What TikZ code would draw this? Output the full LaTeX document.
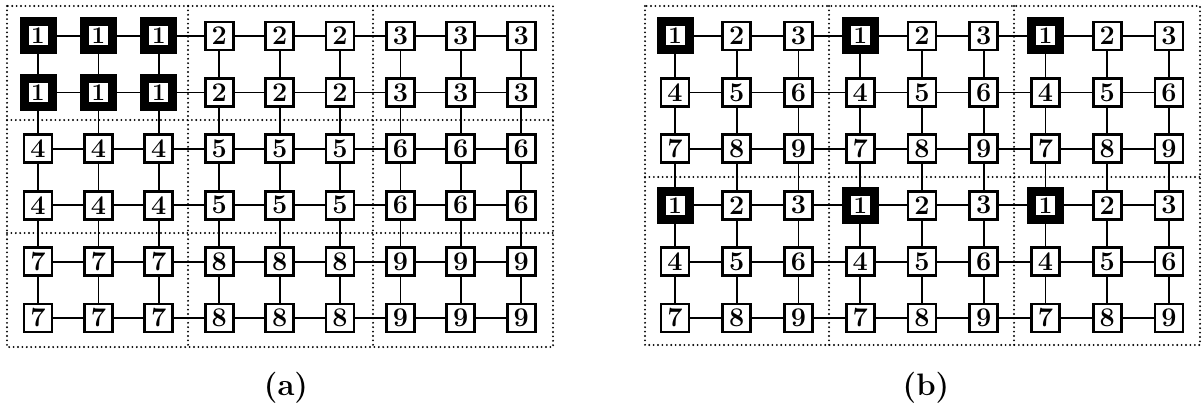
\documentclass[tikz,border=0pt]{standalone}
\usepackage{fontspec}
\setmainfont{Latin Modern Roman}
\begin{document}
\begin{tikzpicture}[x=1pt,y=-1pt,
  cell/.style={draw, line width=2.8pt, fill=white, minimum size=28pt, inner sep=0pt,
    font=\fontsize{27}{27}\selectfont\bfseries},
  hot/.style={cell, line width=9pt, minimum size=28pt, font=\fontsize{24}{24}\selectfont\bfseries},
  link/.style={line width=1.8pt},
  frame/.style={line width=2.1pt, dash pattern=on 0pt off 4.4pt, line cap=round},
  lab/.style={font=\fontsize{31}{31}\selectfont\bfseries}]
\useasboundingbox (0,0) rectangle (1204,404);
% frames (a)
\draw[frame] (7,6) rectangle (553,347);
\draw[frame] (188,6) -- (188,347);
\draw[frame] (373,6) -- (373,347);
\draw[frame] (7,120) -- (553,120);
\draw[frame] (7,233) -- (553,233);
% frames (b)
\draw[frame] (645,6) rectangle (1200,345);
\draw[frame] (829,6) -- (829,345);
\draw[frame] (1014,6) -- (1014,345);
\draw[frame] (645,177) -- (1200,177);
% nodes (a)
\foreach \r in {0,...,5}{
  \foreach \c in {0,...,8}{
    \pgfmathtruncatemacro{\v}{3*floor(\r/2)+floor(\c/3)+1}
    \pgfmathsetmacro{\xx}{38+60.4*\c}
    \pgfmathsetmacro{\yy}{36+56.4*\r}
    \ifnum\v=1
      \node[hot] (a-\r-\c) at (\xx,\yy) {\v};
    \else
      \node[cell] (a-\r-\c) at (\xx,\yy) {\v};
    \fi
  }
}
% nodes (b)
\foreach \r in {0,...,5}{
  \foreach \c in {0,...,8}{
    \pgfmathtruncatemacro{\v}{3*mod(\r,3)+mod(\c,3)+1}
    \pgfmathsetmacro{\xx}{675+61.75*\c}
    \pgfmathsetmacro{\yy}{36+56.4*\r}
    \ifnum\v=1
      \node[hot] (b-\r-\c) at (\xx,\yy) {\v};
    \else
      \node[cell] (b-\r-\c) at (\xx,\yy) {\v};
    \fi
  }
}
% links
\foreach \p in {a,b}{
  \foreach \r in {0,...,5}{
    \foreach \c in {0,...,7}{
      \pgfmathtruncatemacro{\n}{\c+1}
      \draw[link] (\p-\r-\c) -- (\p-\r-\n);
    }
  }
  \foreach \r in {0,...,4}{
    \foreach \c in {0,...,8}{
      \pgfmathtruncatemacro{\n}{\r+1}
      \draw[link] (\p-\r-\c) -- (\p-\n-\c);
    }
  }
}
\node[lab] (la) at (286,388) {(a)};
\node[lab] (lb) at (926,388) {(b)};
\end{tikzpicture}
\end{document}
